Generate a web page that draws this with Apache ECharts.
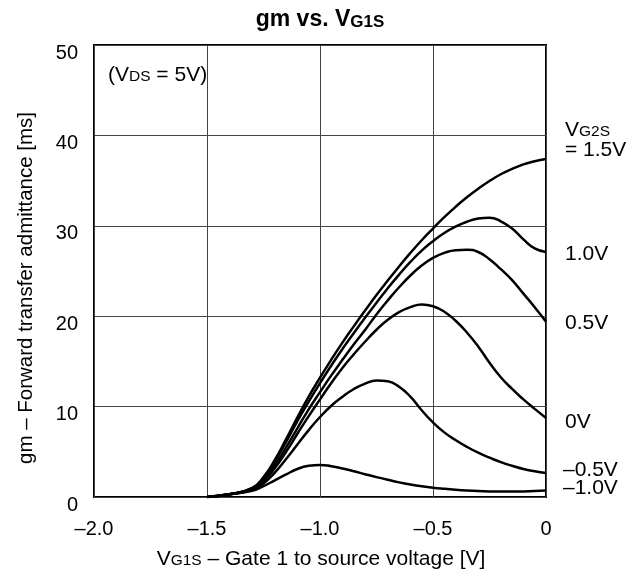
<!DOCTYPE html>
<html><head><meta charset="utf-8">
<script src="https://cdn.jsdelivr.net/npm/echarts@6/dist/echarts.min.js"></script>
<style>html,body{margin:0;padding:0;background:#fff}#c{width:641px;height:574px}</style>
</head><body><div id="c"></div>
<script>
// V_G1S sample points [V]
const xValues = [-1.5,-1.4,-1.3,-1.25,-1.2,-1.15,-1.1,-1.05,-1.0,-0.95,-0.9,-0.85,-0.8,-0.75,-0.7,-0.65,-0.6,-0.55,-0.5,-0.45,-0.4,-0.35,-0.3,-0.25,-0.2,-0.15,-0.1,-0.05,0];
// gm [ms] for each V_G2S
const gmVG2S_1p5 = [0,0.3,1.0,2.2,4.1,6.4,8.8,11.1,13.2,15.2,17.1,18.9,20.65,22.35,23.95,25.5,27.0,28.4,29.7,30.95,32.1,33.15,34.1,34.95,35.7,36.3,36.8,37.15,37.4];
const gmVG2S_1p0 = [0,0.3,0.95,2.0,3.9,6.1,8.4,10.55,12.6,14.55,16.4,18.15,19.85,21.5,23.1,24.6,26.0,27.25,28.3,29.2,29.9,30.45,30.8,30.9,30.5,29.7,28.5,27.5,27.1];
const gmVG2S_0p5 = [0,0.3,0.9,1.85,3.5,5.5,7.6,9.7,11.6,13.45,15.2,16.9,18.5,20.2,21.75,23.2,24.5,25.6,26.45,27.0,27.3,27.35,27.1,26.3,25.2,24.0,22.5,21.0,19.4];
const gmVG2S_0 = [0,0.3,0.85,1.7,3.2,5.0,7.0,8.95,10.8,12.6,14.3,15.8,17.2,18.5,19.6,20.45,21.0,21.3,21.1,20.5,19.5,18.2,16.65,14.85,13.25,11.95,10.8,9.75,8.75];
const gmVG2S_m0p5 = [0,0.3,0.8,1.5,2.7,4.2,5.8,7.4,8.85,10.1,11.1,11.95,12.55,12.9,12.8,12.2,11.1,9.6,8.25,7.15,6.3,5.55,4.9,4.35,3.85,3.45,3.1,2.85,2.65];
const gmVG2S_m1p0 = [0,0.3,0.7,1.2,1.85,2.5,3.1,3.45,3.55,3.4,3.15,2.85,2.52,2.2,1.9,1.62,1.38,1.18,1.02,0.9,0.8,0.72,0.66,0.62,0.6,0.6,0.62,0.66,0.72];
const seriesNames = ['1.5V','1.0V','0.5V','0V','–0.5V','–1.0V'];
const xTickLabels = ['–2.0','–1.5','–1.0','–0.5','0'];
const yTickLabels = ['0','10','20','30','40','50'];

const FONT = 'Liberation Sans, Arial, Helvetica, sans-serif';
const allData = [gmVG2S_1p5, gmVG2S_1p0, gmVG2S_0p5, gmVG2S_0, gmVG2S_m0p5, gmVG2S_m1p0];

const chart = echarts.init(document.getElementById('c'), null, {renderer:'canvas'});

function txt(x, y, text, rich, extra) {
  return {
    type: 'text', x: x, y: y, silent: true,
    style: Object.assign({ text: text, rich: rich, fill: '#000', font: '21px ' + FONT, align: 'left', verticalAlign: 'middle' }, extra || {})
  };
}
const richN = {
  v: {fontSize: 21, fontFamily: FONT, color: '#000', verticalAlign: 'bottom'},
  s: {fontSize: 15.5, fontFamily: FONT, color: '#000', verticalAlign: 'bottom', padding: [0,0,1,0]}
};
const richY = {
  v: {fontSize: 20.5, fontFamily: FONT, color: '#000', verticalAlign: 'bottom'}
};
const richB = {
  v: {fontSize: 23, fontWeight: 'bold', fontFamily: FONT, color: '#000', verticalAlign: 'bottom'},
  s: {fontSize: 17, fontWeight: 'bold', fontFamily: FONT, color: '#000', verticalAlign: 'bottom', padding: [0,0,1,0]}
};

const option = {
  backgroundColor: '#fff',
  animation: false,
  grid: { left: 94, top: 45, right: 95, bottom: 77, show: true, borderColor: '#000', borderWidth: 2, backgroundColor: 'transparent' },
  xAxis: {
    type: 'value', min: -2, max: 0, interval: 0.5,
    axisLine: {show: false}, axisTick: {show: false},
    splitLine: {show: true, lineStyle: {color: '#444', width: 1}},
    axisLabel: { margin: 22, color: '#000', fontSize: 20, fontFamily: FONT,
      formatter: v => xTickLabels[Math.round((v + 2) / 0.5)] }
  },
  yAxis: {
    type: 'value', min: 0, max: 50, interval: 10,
    axisLine: {show: false}, axisTick: {show: false},
    splitLine: {show: true, lineStyle: {color: '#444', width: 1}},
    axisLabel: { margin: 16, color: '#000', fontSize: 20, fontFamily: FONT, verticalAlign: 'top', lineHeight: 16,
      formatter: v => yTickLabels[Math.round(v / 10)] }
  },
  series: allData.map((d, i) => ({
    name: seriesNames[i], type: 'line', smooth: 0.5, symbol: 'none',
    lineStyle: {color: '#000', width: 2.5},
    data: xValues.map((x, j) => [x, d[j]])
  })),
  graphic: [
    txt(320, 20, '{v|gm vs. V}{s|G1S}', richB, {align: 'center'}),
    txt(108, 75, '{v|(V}{s|DS}{v| = 5V)}', richN),
    txt(321, 559, '{v|V}{s|G1S}{v| – Gate 1 to source voltage [V]}', richN, {align: 'center'}),
    Object.assign(txt(26, 288, '{v|gm – Forward transfer admittance [ms]}', richY, {align: 'center'}), {rotation: Math.PI / 2}),
    txt(565, 130, '{v|V}{s|G2S}', richN),
    txt(565, 150, '{v|= ' + seriesNames[0] + '}', richN),
    txt(565, 254, '{v|' + seriesNames[1] + '}', richN),
    txt(565, 323, '{v|' + seriesNames[2] + '}', richN),
    txt(565, 422, '{v|' + seriesNames[3] + '}', richN),
    txt(563, 470, '{v|' + seriesNames[4] + '}', richN),
    txt(563, 488, '{v|' + seriesNames[5] + '}', richN)
  ]
};
chart.setOption(option);
</script></body></html>
